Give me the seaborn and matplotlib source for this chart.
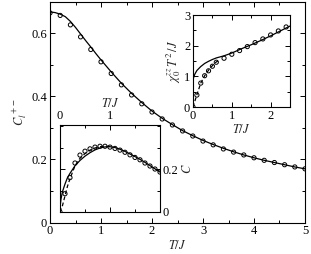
import matplotlib
matplotlib.use("Agg")
import matplotlib.pyplot as plt
import seaborn as sns

# main panel: C_l^{+-} vs T/J
t_main_pts = [0.0, 0.2, 0.4, 0.6, 0.8, 1.0, 1.2, 1.4, 1.6, 1.8, 2.0, 2.2, 2.4, 2.6,
              2.8, 3.0, 3.2, 3.4, 3.6, 3.8, 4.0, 4.2, 4.4, 4.6, 4.8, 5.0]
c_main_pts = [0.664, 0.656, 0.626, 0.588, 0.548, 0.509, 0.472, 0.436, 0.404, 0.376,
              0.350, 0.328, 0.309, 0.290, 0.274, 0.258, 0.246, 0.233, 0.223, 0.214,
              0.205, 0.197, 0.190, 0.183, 0.176, 0.170]
t_main_line = [0.0, 0.1, 0.2, 0.3, 0.4, 0.5, 0.6, 0.7, 0.8, 0.9, 1.0, 1.2, 1.4, 1.6,
               1.8, 2.0, 2.2, 2.4, 2.6, 2.8, 3.0, 3.2, 3.4, 3.6, 3.8, 4.0, 4.2, 4.4,
               4.6, 4.8, 5.0]
c_main_line = [0.667, 0.665, 0.660, 0.652, 0.637, 0.618, 0.597, 0.576, 0.556, 0.535,
               0.515, 0.477, 0.441, 0.409, 0.380, 0.353, 0.330, 0.310, 0.291, 0.275,
               0.260, 0.247, 0.235, 0.224, 0.214, 0.205, 0.197, 0.190, 0.183, 0.176,
               0.170]

# upper inset: chi_0^zz T^2 / J
t_chi_pts = [0.0, 0.1, 0.2, 0.3, 0.4, 0.5, 0.6, 0.8, 1.0, 1.2, 1.4, 1.6, 1.8, 2.0, 2.2, 2.4]
chi_pts = [0.0, 0.39, 0.78, 1.02, 1.18, 1.33, 1.46, 1.59, 1.72, 1.84, 1.97, 2.10,
           2.22, 2.35, 2.48, 2.61]
t_chi_dash = [0.0, 0.05, 0.1, 0.2, 0.3, 0.4, 0.5, 0.6, 0.7]
chi_dash = [0.0, 0.2, 0.4, 0.78, 1.02, 1.2, 1.35, 1.47, 1.55]
t_chi_line = [0.0, 0.02, 0.05, 0.1, 0.2, 0.3, 0.4, 0.5, 0.6, 0.8, 1.0, 1.25, 1.5,
              1.75, 2.0, 2.25, 2.5]
chi_line = [0.88, 0.98, 1.08, 1.19, 1.32, 1.42, 1.49, 1.55, 1.60, 1.67, 1.76, 1.90,
            2.03, 2.17, 2.32, 2.48, 2.64]

# lower inset: specific heat C
t_c_pts = [0.0, 0.1, 0.2, 0.3, 0.4, 0.5, 0.6, 0.7, 0.8, 0.9, 1.0, 1.1, 1.2, 1.3, 1.4,
           1.5, 1.6, 1.7, 1.8, 1.9, 2.0]
c_pts = [0.0, 0.085, 0.16, 0.228, 0.265, 0.283, 0.294, 0.302, 0.306, 0.306, 0.302,
         0.296, 0.288, 0.278, 0.266, 0.254, 0.243, 0.228, 0.214, 0.200, 0.186]
t_c_dash = [0.0, 0.05, 0.1, 0.15, 0.2, 0.3, 0.4, 0.5, 0.6, 0.7, 0.8, 0.9, 1.0]
c_dash = [0.0, 0.03, 0.075, 0.12, 0.155, 0.215, 0.25, 0.272, 0.288, 0.298, 0.304,
          0.306, 0.305]
t_c_line = [0.0, 0.02, 0.05, 0.1, 0.15, 0.2, 0.3, 0.4, 0.5, 0.6, 0.7, 0.8, 0.9, 1.0,
            1.1, 1.2, 1.3, 1.4, 1.5, 1.6, 1.7, 1.8, 1.9, 2.0]
c_line = [0.02, 0.06, 0.095, 0.13, 0.16, 0.18, 0.215, 0.24, 0.26, 0.276, 0.289, 0.298,
          0.303, 0.304, 0.300, 0.292, 0.282, 0.270, 0.258, 0.245, 0.231, 0.216, 0.201,
          0.186]

sns.set_style("ticks")
plt.rcParams['font.family'] = ['Liberation Serif', 'DejaVu Serif']
plt.rcParams['mathtext.fontset'] = 'stix'
plt.rcParams['font.size'] = 9
plt.rcParams['axes.linewidth'] = 0.8
plt.rcParams['xtick.direction'] = 'in'
plt.rcParams['ytick.direction'] = 'in'

fig = plt.figure(figsize=(3.11, 2.54), dpi=100)

def style(ax):
    for s in ax.spines.values():
        s.set_color('black')
        s.set_linewidth(0.8)
    ax.tick_params(which='both', direction='in', colors='black', labelsize=9,
                   top=True, right=True, width=0.7)
    ax.tick_params(which='major', length=3.5, pad=2)
    ax.tick_params(which='minor', length=2)

mk = dict(marker='o', s=9, facecolor='none', edgecolor='black', linewidth=0.7)

# main axes
ax = fig.add_axes([0.1608, 0.124, 0.8199, 0.870])
sns.lineplot(x=t_main_line, y=c_main_line, ax=ax, color='black', linewidth=0.9)
sns.scatterplot(x=t_main_pts, y=c_main_pts, ax=ax, **mk)
ax.set_xlim(0, 5)
ax.set_ylim(0, 0.7)
ax.set_xticks([0, 1, 2, 3, 4, 5])
ax.set_xticks([0.5, 1.5, 2.5, 3.5, 4.5], minor=True)
ax.set_yticks([0, 0.2, 0.4, 0.6])
ax.set_yticklabels(['0', '0.2', '0.4', '0.6'])
ax.set_yticks([0.1, 0.3, 0.5], minor=True)
style(ax)
ax.set_xlabel(r'$T/J$', labelpad=1)
ax.set_ylabel(r'$C_l^{\,+-}$', labelpad=2)

# upper inset
ax1 = fig.add_axes([0.6206, 0.5787, 0.3119, 0.3622])
sns.lineplot(x=t_chi_line, y=chi_line, ax=ax1, color='black', linewidth=0.9)
sns.lineplot(x=t_chi_dash, y=chi_dash, ax=ax1, color='black', linewidth=0.9,
             linestyle=(0, (3, 2)))
sns.scatterplot(x=t_chi_pts, y=chi_pts, ax=ax1, **mk)
ax1.set_xlim(0, 2.5)
ax1.set_ylim(0, 3)
ax1.set_xticks([0, 1, 2])
ax1.set_xticks([0.5, 1.5, 2.5], minor=True)
ax1.set_yticks([0, 1, 2, 3])
ax1.set_yticks([0.5, 1.5, 2.5], minor=True)
style(ax1)
ax1.set_xlabel(r'$T/J$', labelpad=1)
ax1.set_ylabel(r'$\chi_0^{zz}\,T^2\,/J$', labelpad=1)

# lower inset
ax2 = fig.add_axes([0.1929, 0.1654, 0.3215, 0.3425])
sns.lineplot(x=t_c_line, y=c_line, ax=ax2, color='black', linewidth=0.9)
sns.lineplot(x=t_c_dash, y=c_dash, ax=ax2, color='black', linewidth=0.9,
             linestyle=(0, (3, 2)))
sns.scatterplot(x=t_c_pts, y=c_pts, ax=ax2, **mk)
ax2.set_xlim(0, 2)
ax2.set_ylim(0, 0.405)
ax2.set_xticks([0, 1])
ax2.set_xticks([0.5, 1.5, 2.0], minor=True)
ax2.set_yticks([0, 0.2])
ax2.set_yticklabels(['0', '0.2'])
ax2.set_yticks([0.1, 0.3, 0.4], minor=True)
style(ax2)
ax2.tick_params(labeltop=True, labelbottom=False, labelleft=False, labelright=True)
ax2.xaxis.set_label_position('top')
ax2.yaxis.set_label_position('right')
ax2.set_xlabel(r'$T/J$', labelpad=2)
ax2.set_ylabel(r'$C$', labelpad=2)

fig.savefig('out.png', dpi=100)
